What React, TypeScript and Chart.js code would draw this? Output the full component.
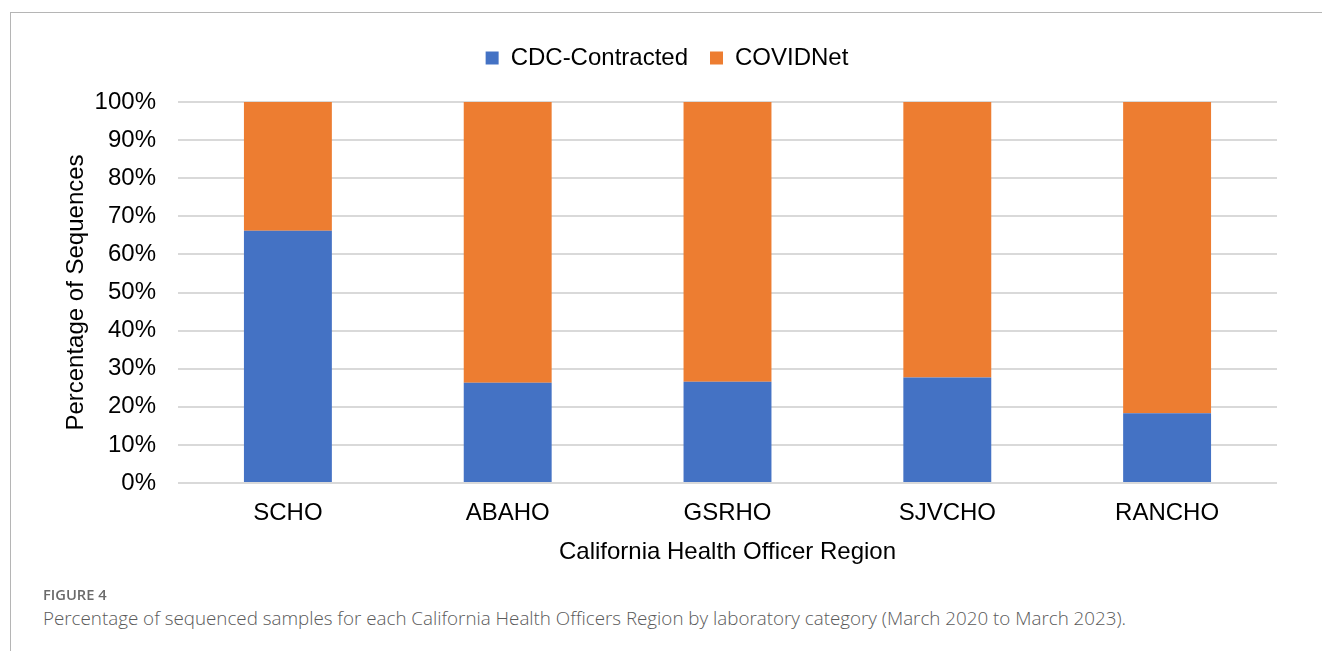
import React, { useEffect, useRef } from "react";
import { Chart, registerables } from "chart.js";

Chart.register(...registerables);

const categories = ["SCHO", "ABAHO", "GSRHO", "SJVCHO", "RANCHO"];
const cdcContracted = [66.2, 26.3, 26.6, 27.7, 18.3];
const covidNet = [33.8, 73.7, 73.4, 72.3, 81.7];
const seriesNames = ["CDC-Contracted", "COVIDNet"];
const seriesColors = ["#4472C4", "#ED7D31"];
const yTicks = [0, 10, 20, 30, 40, 50, 60, 70, 80, 90, 100];

const FONT = "'Liberation Sans', Arial, sans-serif";

const legendSpacer = {
  id: "legendSpacer",
  beforeInit(chart: any) {
    const orig = chart.legend.fit;
    chart.legend.fit = function () {
      orig.call(this);
      this.height += 22;
    };
  },
};

export default function App() {
  const ref = useRef<HTMLCanvasElement | null>(null);

  useEffect(() => {
    if (!ref.current) return;
    const chart = new Chart(ref.current, {
      type: "bar",
      data: {
        labels: categories,
        datasets: [
          {
            label: seriesNames[0],
            data: cdcContracted,
            backgroundColor: seriesColors[0],
            barPercentage: 0.4,
            categoryPercentage: 1,
          },
          {
            label: seriesNames[1],
            data: covidNet,
            backgroundColor: seriesColors[1],
            barPercentage: 0.4,
            categoryPercentage: 1,
          },
        ],
      },
      plugins: [legendSpacer],
      options: {
        responsive: false,
        animation: false,
        layout: { padding: { left: 57, right: 45, top: 24, bottom: 0 } },
        plugins: {
          legend: {
            position: "top",
            labels: {
              boxWidth: 13,
              boxHeight: 13,
              padding: 22,
              color: "#000",
              font: { family: FONT, size: 24 },
            },
          },
          tooltip: { enabled: false },
        },
        scales: {
          x: {
            stacked: true,
            grid: { display: false },
            border: { display: false },
            ticks: { color: "#000", font: { family: FONT, size: 24 }, padding: 8 },
            title: {
              display: true,
              text: "California Health Officer Region",
              color: "#000",
              font: { family: FONT, size: 24 },
              padding: { top: 0, bottom: 33 },
            },
            afterFit: (scale: any) => {
              scale.height = 117;
            },
          },
          y: {
            stacked: true,
            min: 0,
            max: 100,
            afterBuildTicks: (scale: any) => {
              scale.ticks = yTicks.map((v) => ({ value: v }));
            },
            grid: { color: "#D9D9D9", lineWidth: 2, drawTicks: false },
            border: { display: false },
            ticks: {
              color: "#000",
              font: { family: FONT, size: 24 },
              padding: 22,
              callback: (v: any) => v + "%",
            },
            title: {
              display: true,
              text: "Percentage of Sequences",
              color: "#000",
              font: { family: FONT, size: 24 },
              padding: { top: 5, bottom: 0 },
            },
            afterFit: (scale: any) => {
              scale.width = 121;
            },
          },
        },
      },
    });
    return () => chart.destroy();
  }, []);

  return (
    <div
      style={{
        position: "fixed",
        left: 0,
        top: 0,
        width: 1322,
        height: 651,
        background: "#fff",
        overflow: "hidden",
      }}
    >
      <div
        style={{
          position: "absolute",
          left: 10,
          top: 12,
          width: 1330,
          height: 700,
          borderTop: "1px solid #b5b5b5",
          borderLeft: "1px solid #b5b5b5",
        }}
      />
      <canvas
        ref={ref}
        width={1322}
        height={600}
        style={{ position: "absolute", left: 0, top: 0, width: 1322, height: 600 }}
      />
      <div
        style={{
          position: "absolute",
          left: 43,
          top: 584,
          lineHeight: "20px",
          fontFamily: "'Open Sans', sans-serif",
          fontWeight: 600,
          fontSize: 14.7,
          color: "#6a6a6a",
          whiteSpace: "nowrap",
        }}
      >
        FIGURE 4
      </div>
      <div
        style={{
          position: "absolute",
          left: 43,
          top: 605,
          lineHeight: "26px",
          fontFamily: "'Open Sans', sans-serif",
          fontWeight: 300,
          fontSize: 18.8,
          color: "#5a5a5a",
          whiteSpace: "nowrap",
        }}
      >
        Percentage of sequenced samples for each California Health Officers Region by laboratory category (March 2020 to March 2023).
      </div>
    </div>
  );
}
